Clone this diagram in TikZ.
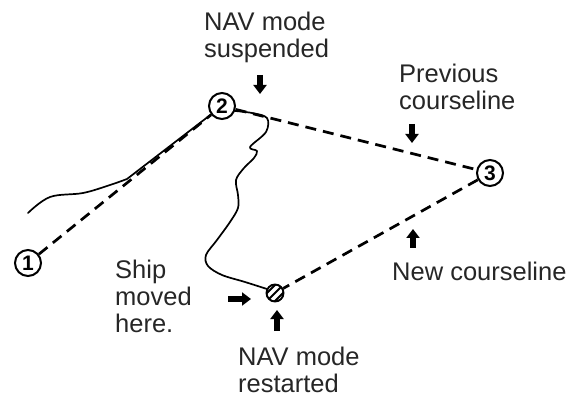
\documentclass[tikz,border=0pt]{standalone}
\usepackage{fontspec}
\setmainfont{Liberation Sans}
\usetikzlibrary{arrows.meta,positioning,calc}
\tikzset{
  wpt/.style={draw, circle, line width=2pt, inner sep=0pt, minimum size=26pt,
        font=\fontsize{21}{21}\selectfont\bfseries},
  lbl/.style={anchor=base west, align=left, inner sep=0pt,
        font=\fontsize{25.5}{27}\selectfont, text=black!85},
  course/.style={dash pattern=on 11pt off 7pt, line width=2.7pt},
  track/.style={line width=1.7pt, line join=round, line cap=round},
  ptr/.style={-{Triangle[width=13pt,length=9pt]}, line width=5.5pt},
}
\begin{document}
\begin{tikzpicture}[x=1pt,y=-1pt]
  \useasboundingbox (0,0) rectangle (573,398);
  % waypoints
  \node[wpt] (wp1) at (28,263) {1};
  \node[wpt] (wp2) at (222,106) {2};
  \node[wpt] (wp3) at (490,173) {3};
  \node[draw, circle, line width=1.9pt, minimum size=17pt, inner sep=0pt,
        path picture={
          \foreach \d in {-4,0,4}
            \draw[line width=1.8pt] ($(path picture bounding box.center)+(\d-10,\d+10)$)
              -- ++(20,-20);
        }] (rs) at (275,293) {};
  % courselines
  \draw[course] (wp1) -- (wp2);
  \draw[course] (wp2) -- (wp3);
  \draw[course] (wp3) -- (rs);
  % ship's track
  \draw[track] plot[smooth, tension=0.6] coordinates {(28,213) (50,197) (83,193) (110,185) (127,179)}
    -- (wp2);
  \draw[track] plot[smooth, tension=0.55] coordinates {(235,111) (252,113) (267,118) (266,132)
    (250,147) (257,151) (254,158) (244,168) (236,180) (238,195) (238,208) (230,222)
    (217,240) (206,255) (208,266) (222,275) (245,282) (267,289)};
  % labels
  \node[lbl] (susp) at (204,58) {NAV mode\\suspended};
  \node[lbl] (prev) at (399,110) {Previous\\courseline};
  \node[lbl] (newc) at (392,280) {New courseline};
  \node[lbl] (ship) at (115,332) {Ship\\moved\\here.};
  \node[lbl] (rest) at (238,392) {NAV mode\\restarted};
  % pointers
  \draw[ptr] (260,75) -- (260,94);
  \draw[ptr] (412,124) -- (412,143);
  \draw[ptr] (413,248) -- (413,229);
  \draw[ptr] (228,299) -- (251,299);
  \draw[ptr] (277,331) -- (277,310);
\end{tikzpicture}
\end{document}
